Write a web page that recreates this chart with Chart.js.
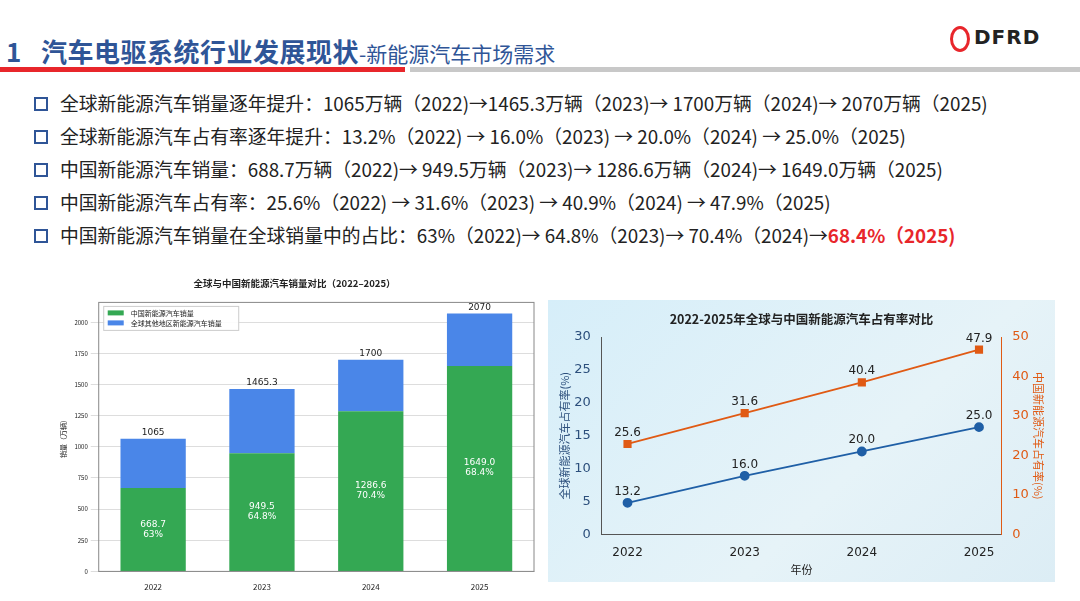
<!DOCTYPE html>
<html><head><meta charset="utf-8">
<script src="https://cdn.jsdelivr.net/npm/chart.js@4.4.0/dist/chart.umd.min.js"></script>
<style>
body{margin:0;width:1080px;height:601px;background:#fff;font-family:"Noto Sans CJK SC","Noto Sans",sans-serif;position:relative;overflow:hidden}
.t{position:absolute;left:6px;top:32px;font-size:26px;font-weight:bold;color:#2f5597;white-space:nowrap;letter-spacing:0.5px}
.t span{font-size:21px;font-weight:normal;letter-spacing:0}
.rl{position:absolute;left:0;top:67px;width:405px;height:5px;background:#e8262b}
.gl{position:absolute;left:410px;top:67px;width:670px;height:5px;background:#c8c8c8}
.logo{position:absolute;left:950px;top:25px;font:bold 20px "DejaVu Sans";color:#222;letter-spacing:1px}
.logo b{display:inline-block;width:20px;height:26px;border:3px solid #e8262b;border-radius:50%;vertical-align:middle;margin-right:4px;box-sizing:border-box}
ul{position:absolute;left:34px;top:90px;margin:0;padding:0;list-style:none}
li{font-size:18.8px;color:#222;height:33px;line-height:26px;white-space:nowrap}
li:before{content:"";display:inline-block;width:10px;height:10px;border:2px solid #2f5597;margin-right:12px;vertical-align:0px}
.red{color:#e8262b;font-weight:bold}
#c1{position:absolute;left:55px;top:272px}
#box{position:absolute;left:548px;top:300px;width:507px;height:282px;background:linear-gradient(135deg,#d6eef9,#e6f3f8 60%,#dcedf5)}
#c2{position:absolute;left:0;top:0}
</style></head><body>
<div class="t">1&nbsp;&nbsp; 汽车电驱系统行业发展现状<span>-新能源汽车市场需求</span></div>
<div class="rl"></div><div class="gl"></div>
<div class="logo"><b></b>DFRD</div>
<ul>
<li>全球新能源汽车销量逐年提升：1065万辆（2022)→1465.3万辆（2023)→ 1700万辆（2024)→ 2070万辆（2025)</li>
<li>全球新能源汽车占有率逐年提升：13.2%（2022) → 16.0%（2023) → 20.0%（2024) → 25.0%（2025)</li>
<li>中国新能源汽车销量：688.7万辆（2022)→ 949.5万辆（2023)→ 1286.6万辆（2024)→ 1649.0万辆（2025)</li>
<li>中国新能源汽车占有率：25.6%（2022) → 31.6%（2023) → 40.9%（2024) → 47.9%（2025)</li>
<li>中国新能源汽车销量在全球销量中的占比：63%（2022)→ 64.8%（2023)→ 70.4%（2024)→<span class="red">68.4%（2025)</span></li>
</ul>
<canvas id="c1" width="487" height="323"></canvas>
<div id="box"><canvas id="c2" width="507" height="282"></canvas></div>
<script>
const years=["2022","2023","2024","2025"];
const chinaSales=[668.7,949.5,1286.6,1649.0];
const globalSales=[1065,1465.3,1700,2070];
const otherSales=[396.3,515.8,413.4,421.0];
const chinaShareLabels=["63%","64.8%","70.4%","68.4%"];
const chinaSalesLabels=["668.7","949.5","1286.6","1649.0"];
const yTicksLeft=[0,250,500,750,1000,1250,1500,1750,2000];
const xYears=[2022,2023,2024,2025];
const globalRatePlot=[4.8,8.9,12.6,16.3];
const globalRateLabels=["13.2","16.0","20.0","25.0"];
const chinaRatePlot=[22.9,30.7,38.5,46.8];
const chinaRateLabels=["25.6","31.6","40.4","47.9"];
Chart.defaults.animation=false;
Chart.defaults.font.family='"Noto Sans CJK SC","DejaVu Sans",sans-serif';
const barLabels={id:'bl',afterDatasetsDraw(c){const x=c.ctx;const m0=c.getDatasetMeta(0),m1=c.getDatasetMeta(1);
x.save();x.textAlign='center';x.font='9px "DejaVu Sans"';
m0.data.forEach((b,i)=>{const cy=(b.y+b.base)/2;x.fillStyle='#fff';x.fillText(chinaSalesLabels[i],b.x,cy-3);x.fillText(chinaShareLabels[i],b.x,cy+7);});
x.fillStyle='#222';m1.data.forEach((b,i)=>{x.fillText(String(globalSales[i]),b.x,b.y-4);});
const a=c.chartArea;x.strokeStyle='#888';x.lineWidth=1;x.strokeRect(a.left,a.top,a.right-a.left,a.bottom-a.top);
const lx=a.left+5,ly=a.top+4;x.fillStyle='rgba(255,255,255,0.9)';x.strokeStyle='#ccc';x.fillRect(lx,ly,135,24);x.strokeRect(lx,ly,135,24);
c.data.datasets.forEach((d,i)=>{x.fillStyle=d.backgroundColor;x.fillRect(lx+4,ly+4+i*10,16,5);x.fillStyle='#222';x.textAlign='left';x.font='7px "Noto Sans CJK SC"';x.fillText(d.label,lx+27,ly+10+i*10);});
x.restore();}};
new Chart(document.getElementById('c1'),{type:'bar',data:{labels:years,datasets:[
{label:'中国新能源汽车销量',data:chinaSales,backgroundColor:'#34a853',stack:'s',categoryPercentage:1,barPercentage:0.6},
{label:'全球其他地区新能源汽车销量',data:otherSales,backgroundColor:'#4a86e8',stack:'s',categoryPercentage:1,barPercentage:0.6}]},
options:{responsive:false,layout:{padding:{right:8,bottom:0,top:0}},plugins:{title:{display:true,text:'全球与中国新能源汽车销量对比（2022–2025）',color:'#222',font:{size:9.5},padding:{top:6,bottom:13}},
legend:{display:false},tooltip:{enabled:false}},
scales:{x:{stacked:true,grid:{display:false},ticks:{color:'#222',font:{size:8}}},y:{stacked:true,min:0,max:2160,afterBuildTicks(s){s.ticks=yTicksLeft.map(v=>({value:v}));},
grid:{color:'#ddd',borderDash:[3,3]},border:{display:false},ticks:{color:'#222',font:{size:6},callback:v=>String(v)},title:{display:true,text:'销量（万辆）',font:{size:7},color:'#222'}}}},plugins:[barLabels]});
const lineLabels={id:'ll',afterDatasetsDraw(c){const x=c.ctx;x.save();x.textAlign='center';x.font='12px "DejaVu Sans"';x.fillStyle='#222';
c.getDatasetMeta(0).data.forEach((p,i)=>x.fillText(globalRateLabels[i],p.x,p.y-8));
c.getDatasetMeta(1).data.forEach((p,i)=>x.fillText(chinaRateLabels[i],p.x,p.y-8));x.restore();}};
new Chart(document.getElementById('c2'),{type:'line',data:{datasets:[
{data:xYears.map((v,i)=>({x:v,y:globalRatePlot[i]})),borderColor:'#1f5fa6',backgroundColor:'#1f5fa6',pointStyle:'circle',pointRadius:4,borderWidth:1.8,yAxisID:'y'},
{data:xYears.map((v,i)=>({x:v,y:chinaRatePlot[i]})),borderColor:'#e05a14',backgroundColor:'#e05a14',pointStyle:'rect',pointRadius:4.5,borderWidth:1.8,yAxisID:'y1'}]},
options:{responsive:false,layout:{padding:{top:0,right:10,left:10,bottom:6}},plugins:{legend:{display:false},tooltip:{enabled:false},
title:{display:true,text:'2022-2025年全球与中国新能源汽车占有率对比',color:'#222',font:{size:12.5,weight:'bold'},padding:{top:12,bottom:10}}},
scales:{x:{type:'linear',min:2021.78,max:2025.19,afterBuildTicks(s){s.ticks=xYears.map(v=>({value:v}));},grid:{display:false,drawTicks:true},border:{color:'#555'},
ticks:{color:'#222',font:{size:12,family:'"DejaVu Sans"'},callback:v=>String(v)},title:{display:true,text:'年份',color:'#222',font:{size:11},padding:0}},
y:{position:'left',min:0,max:30,ticks:{stepSize:5,color:'#2c4f7c',font:{size:13,family:'"DejaVu Sans"'}},grid:{display:false},border:{color:'#555'},title:{display:true,text:'全球新能源汽车占有率(%)',color:'#2c4f7c',font:{size:11},padding:0}},
y1:{position:'right',min:0,max:50,ticks:{stepSize:10,color:'#e05a14',font:{size:13,family:'"DejaVu Sans"'}},grid:{display:false},border:{color:'#e05a14'},title:{display:true,text:'中国新能源汽车占有率(%)',color:'#e05a14',font:{size:11},padding:0}}}},plugins:[lineLabels]});
</script></body></html>
